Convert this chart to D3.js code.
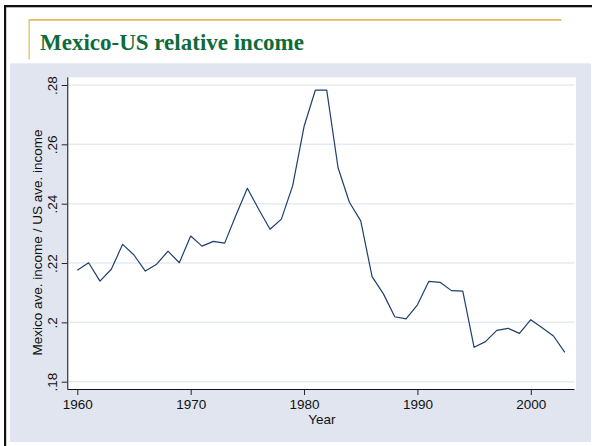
<!DOCTYPE html>
<html>
<head>
<meta charset="utf-8">
<script src="https://cdn.jsdelivr.net/npm/d3@7/dist/d3.min.js"></script>
<style>
  html, body { margin: 0; padding: 0; background: #ffffff; }
  svg { display: block; }
</style>
</head>
<body>
<svg id="chart" width="592" height="446"></svg>
<script>
// ---- data ----
const years = [1960,1961,1962,1963,1964,1965,1966,1967,1968,1969,
               1970,1971,1972,1973,1974,1975,1976,1977,1978,1979,
               1980,1981,1982,1983,1984,1985,1986,1987,1988,1989,
               1990,1991,1992,1993,1994,1995,1996,1997,1998,1999,
               2000,2001,2002,2003];
const ratio = [0.2176,0.2201,0.2139,0.2179,0.2263,0.2227,0.2173,0.2196,0.2240,0.2201,
               0.2291,0.2257,0.2273,0.2267,0.2362,0.2452,0.2381,0.2314,0.2348,0.2461,
               0.2660,0.2783,0.2783,0.2521,0.2405,0.2342,0.2154,0.2096,0.2019,0.2012,
               0.2059,0.2138,0.2135,0.2107,0.2105,0.1916,0.1935,0.1973,0.1980,0.1963,
               0.2009,0.1982,0.1954,0.1899];
const xTicks = [1960, 1970, 1980, 1990, 2000];
const yTicks = [0.18, 0.20, 0.22, 0.24, 0.26, 0.28];
const yTickLabels = [".18", ".2", ".22", ".24", ".26", ".28"];
const titleText = "Mexico-US relative income";
const xTitle = "Year";
const yTitle = "Mexico ave. income / US ave. income";

const data = years.map((y, i) => ({year: y, value: ratio[i]}));

// ---- layout ----
const svg = d3.select("#chart");
const plotL = 67.7, plotR = 576, plotT = 77.3, plotB = 389.5;

const x = d3.scaleLinear().domain([1960, 2000]).range([77.3, 530.8]);
const y = d3.scaleLinear().domain([0.18, 0.28]).range([381.7, 85]);

// slide frame
svg.append("rect").attr("x", 0).attr("y", 0).attr("width", 592).attr("height", 446).attr("fill", "#ffffff");
svg.append("rect").attr("x", 10).attr("y", 63.3).attr("width", 581).attr("height", 378.7).attr("fill", "#e0e5ef");
svg.append("rect").attr("x", 4).attr("y", 5).attr("width", 588).attr("height", 2.3).attr("fill", "#111111");
svg.append("rect").attr("x", 4).attr("y", 5).attr("width", 2.2).attr("height", 441).attr("fill", "#111111");
// gold accent lines
svg.append("rect").attr("x", 29).attr("y", 19).attr("width", 532.5).attr("height", 1.8).attr("fill", "#e3bf5c");
svg.append("rect").attr("x", 28.5).attr("y", 19).attr("width", 1.3).attr("height", 40.5).attr("fill", "#e3bf5c");

// title
svg.append("text")
  .attr("x", 40).attr("y", 50)
  .attr("font-family", "'Liberation Serif', 'Times New Roman', serif")
  .attr("font-weight", "bold")
  .attr("font-size", 23)
  .attr("fill", "#0e6b3a")
  .text(titleText);

// plot region
svg.append("rect")
  .attr("x", plotL).attr("y", plotT)
  .attr("width", plotR - plotL).attr("height", plotB - plotT)
  .attr("fill", "#ffffff");

// gridlines
svg.append("g").selectAll("line").data(yTicks).join("line")
  .attr("x1", plotL).attr("x2", plotR - 1.5)
  .attr("y1", d => y(d)).attr("y2", d => y(d))
  .attr("stroke", "#e6eaf2").attr("stroke-width", 1.5);

// series line
const line = d3.line().x(d => x(d.year)).y(d => y(d.value));
svg.append("path").datum(data)
  .attr("d", line)
  .attr("fill", "none")
  .attr("stroke", "#1f3f6e")
  .attr("stroke-width", 1.2)
  .attr("stroke-linejoin", "round");

const font = "'Liberation Sans', Arial, Helvetica, sans-serif";

// x axis
const xAxis = d3.axisBottom(x).tickValues(xTicks).tickFormat(d3.format("d")).tickSize(5.5).tickPadding(4);
const gx = svg.append("g").attr("transform", `translate(0,${plotB})`).call(xAxis);
gx.select(".domain").remove();
gx.selectAll(".tick line").attr("stroke", "#222").attr("stroke-width", 1);
gx.selectAll(".tick text").attr("font-family", font).attr("font-size", 13.5).attr("fill", "#111");
svg.append("line").attr("x1", plotL).attr("x2", plotR - 1.5).attr("y1", plotB).attr("y2", plotB)
  .attr("stroke", "#111").attr("stroke-width", 1.2);

// y axis
const yAxis = d3.axisLeft(y).tickValues(yTicks).tickFormat((d, i) => yTickLabels[i]).tickSize(6).tickPadding(4);
const gy = svg.append("g").attr("transform", `translate(${plotL},0)`).call(yAxis);
gy.select(".domain").remove();
gy.selectAll(".tick line").attr("stroke", "#222").attr("stroke-width", 1);
gy.selectAll(".tick text")
  .attr("font-family", font).attr("font-size", 13.5).attr("fill", "#111")
  .attr("x", 0).attr("dy", null)
  .attr("text-anchor", "middle")
  .attr("transform", "translate(-10.5,0) rotate(-90)");
svg.append("line").attr("x1", plotL).attr("x2", plotL).attr("y1", plotT).attr("y2", plotB)
  .attr("stroke", "#444").attr("stroke-width", 1.3);

// axis titles
svg.append("text")
  .attr("x", (plotL + plotR) / 2).attr("y", 423.5)
  .attr("text-anchor", "middle")
  .attr("font-family", font).attr("font-size", 13.5).attr("fill", "#111")
  .text(xTitle);
svg.append("text")
  .attr("transform", "translate(41.5,242.5) rotate(-90)")
  .attr("text-anchor", "middle")
  .attr("font-family", font).attr("font-size", 13.5).attr("fill", "#111")
  .text(yTitle);
</script>
</body>
</html>
